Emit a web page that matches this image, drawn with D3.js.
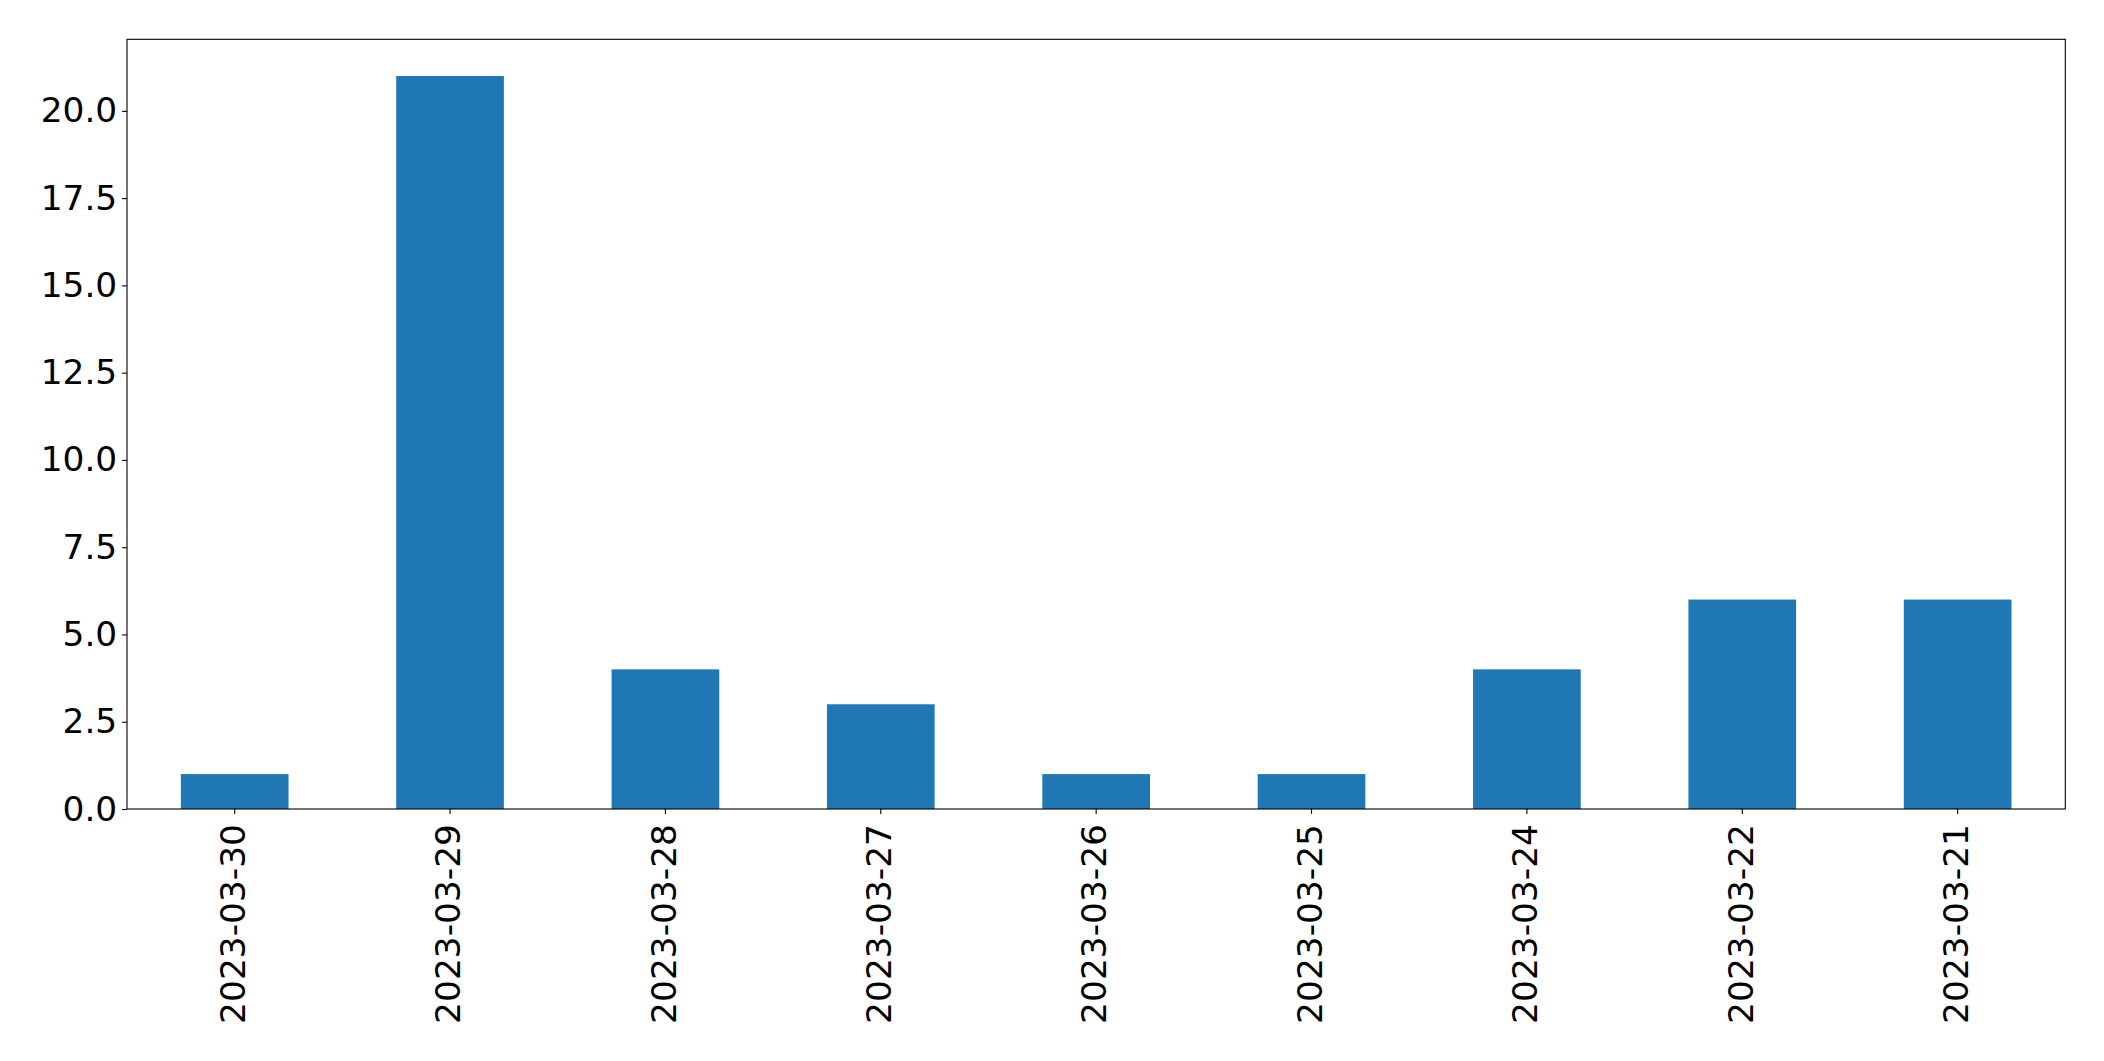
<!DOCTYPE html>
<html><head><meta charset="utf-8">
<script src="https://cdn.jsdelivr.net/npm/d3@7"></script>
<style>body{margin:0;background:#fff}svg{display:block}text{font-family:"DejaVu Sans",sans-serif}</style>
</head><body>
<script>
const categories = ["2023-03-30","2023-03-29","2023-03-28","2023-03-27","2023-03-26","2023-03-25","2023-03-24","2023-03-22","2023-03-21"];
const values = [1,21,4,3,1,1,4,6,6];
const yTicks = [0,2.5,5,7.5,10,12.5,15,17.5,20];

const W=2104,H=1061;
const m={l:127,r:2065.3,t:39.3,b:809};
const svg=d3.select("body").append("svg").attr("width",W).attr("height",H);
const x=d3.scaleBand().domain(categories).range([m.l,m.r]).paddingInner(0.5).paddingOuter(0.25);
const y=d3.scaleLinear().domain([0,d3.max(values)*1.05]).range([m.b,m.t]);

svg.append("g").selectAll("rect").data(values).join("rect")
  .attr("x",(d,i)=>x(categories[i])).attr("width",x.bandwidth())
  .attr("y",d=>y(d)).attr("height",d=>y(0)-y(d)).attr("fill","#1f77b4");

const fs="34.4px";
const ya=svg.append("g").attr("transform",`translate(${m.l},0)`)
  .call(d3.axisLeft(y).tickValues(yTicks).tickFormat(d3.format(".1f")).tickSize(4.9).tickPadding(4.9));
ya.select(".domain").remove();
ya.selectAll("line").attr("stroke","#000").attr("stroke-width",1.1);
ya.selectAll("text").style("font-size",fs).attr("fill","#000");

const xa=svg.append("g").attr("transform",`translate(0,${m.b})`)
  .call(d3.axisBottom(x).tickSize(4.9).tickPadding(4.9));
xa.select(".domain").remove();
xa.selectAll("line").attr("stroke","#000").attr("stroke-width",1.1);
xa.selectAll("text").style("font-size",fs).attr("fill","#000")
  .attr("transform","rotate(-90)").attr("text-anchor","end")
  .attr("x",-15).attr("y",0).attr("dy","0.3em");

svg.append("rect").attr("x",m.l).attr("y",m.t).attr("width",m.r-m.l).attr("height",m.b-m.t)
  .attr("fill","none").attr("stroke","#000").attr("stroke-width",1.1);
</script>
</body></html>
